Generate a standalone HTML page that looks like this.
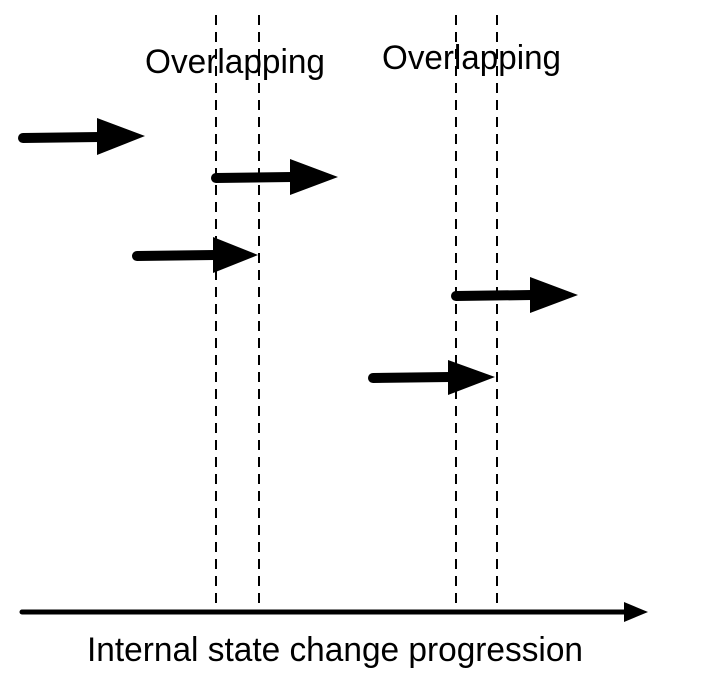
<!DOCTYPE html>
<html><head><style>html,body{margin:0;padding:0;background:#fff;}</style></head>
<body>
<svg width="708" height="688" viewBox="0 0 708 688" xmlns="http://www.w3.org/2000/svg">
<g stroke="#000" stroke-width="2" stroke-dasharray="10,7">
<line x1="216" y1="15" x2="216" y2="610"/>
<line x1="259" y1="15" x2="259" y2="610"/>
<line x1="456" y1="15" x2="456" y2="610"/>
<line x1="497" y1="15" x2="497" y2="610"/>
</g>
<g font-family="Liberation Sans, sans-serif" font-size="34" fill="#000">
<text x="145" y="73" textLength="180" lengthAdjust="spacingAndGlyphs">Overlapping</text>
<text x="382" y="69" textLength="179" lengthAdjust="spacingAndGlyphs">Overlapping</text>
<text x="87" y="661" textLength="496" lengthAdjust="spacingAndGlyphs">Internal state change progression</text>
</g>
<g stroke="#000" stroke-width="10" stroke-linecap="round">
<line x1="23" y1="138" x2="100" y2="137"/>
<line x1="216" y1="178" x2="292" y2="177"/>
<line x1="137" y1="256" x2="215" y2="255"/>
<line x1="456" y1="296" x2="532" y2="295"/>
<line x1="373" y1="378" x2="450" y2="377"/>
</g>
<line x1="22" y1="612" x2="628" y2="612" stroke="#000" stroke-width="5" stroke-linecap="round"/>
<g fill="#000">
<polygon points="97,118 145,136 97,155"/>
<polygon points="290,159 338,177 290,195"/>
<polygon points="213,237 258,255 213,273"/>
<polygon points="530,277 578,295 530,313"/>
<polygon points="448,360 495,377 448,395"/>
<polygon points="624,602 648,612 624,622"/>
</g>
</svg>
</body></html>
